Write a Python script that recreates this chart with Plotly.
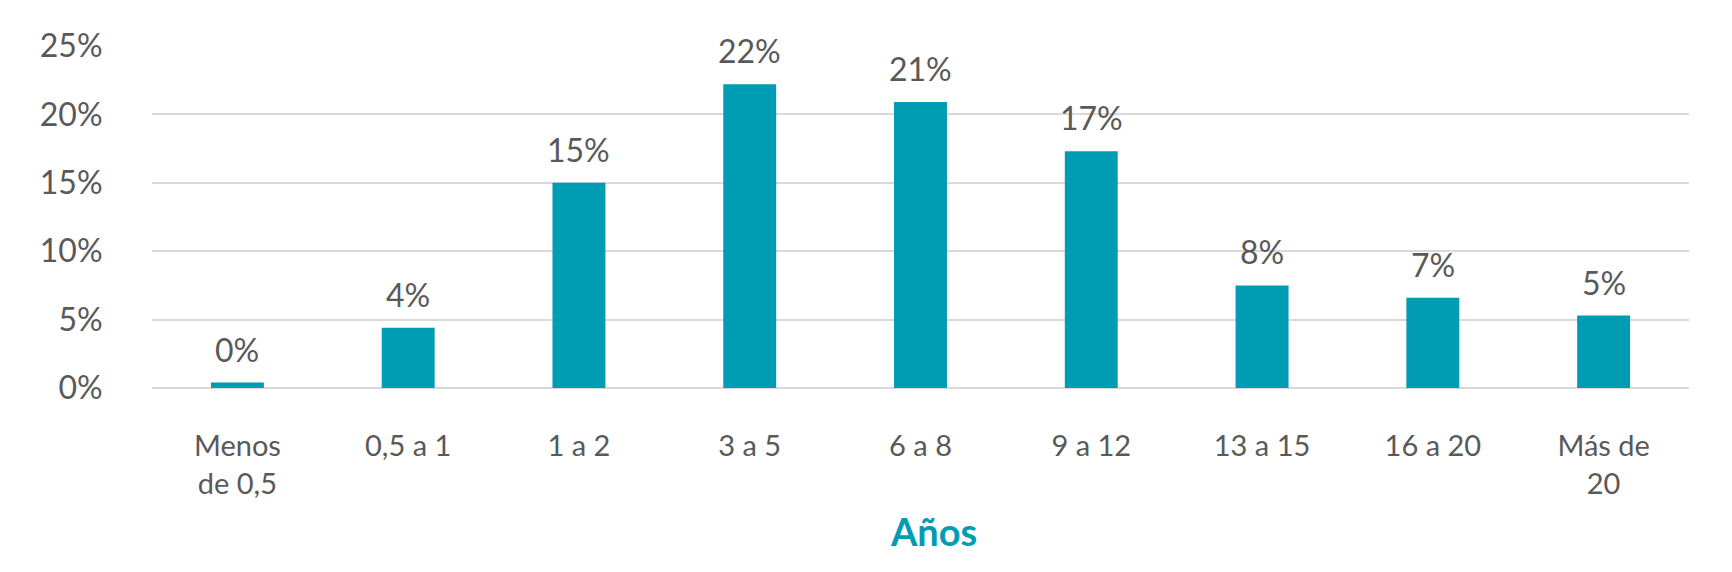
import plotly.graph_objects as go

categories = ["Menos<br>de 0,5", "0,5 a 1", "1 a 2", "3 a 5", "6 a 8", "9 a 12", "13 a 15", "16 a 20", "Más de<br>20"]
values = [0.4, 4.4, 15.0, 22.2, 20.9, 17.3, 7.5, 6.6, 5.3]
labels = ["0%", "4%", "15%", "22%", "21%", "17%", "8%", "7%", "5%"]
y_ticks = [0, 5, 10, 15, 20, 25]
y_ticktext = ["0%", "5%", "10%", "15%", "20%", "25%"]

BAR = "#009CB4"
TXT = "#595959"
GRID = "#D9D9D9"
FONT = "Lato, sans-serif"

fig = go.Figure()
fig.add_trace(go.Bar(x=categories, y=values, marker=dict(color=BAR, line=dict(width=0)),
                     width=0.31, hoverinfo="skip"))

for c, v, t in zip(categories, values, labels):
    fig.add_annotation(x=c, y=v, text=t, showarrow=False, yanchor="bottom",
                       yshift=12, font=dict(size=32, color=TXT, family=FONT))

fig.add_annotation(xref="paper", yref="paper", x=0.5085, y=-0.418,
                   xanchor="center", yanchor="middle", showarrow=False,
                   text="<b>Años</b>", font=dict(size=38, color=BAR, family=FONT))

fig.update_layout(
    width=1724, height=564,
    margin=dict(l=144, r=43, t=38, b=184, autoexpand=False),
    paper_bgcolor="white", plot_bgcolor="white",
    showlegend=False,
    font=dict(family=FONT, color=TXT, size=30),
)
fig.update_xaxes(showgrid=False, showline=False, zeroline=False, automargin=False,
                 tickfont=dict(size=29, color=TXT, family=FONT),
                 ticks="outside", ticklen=32, tickcolor="rgba(0,0,0,0)")
fig.update_yaxes(range=[0, 25], tickvals=y_ticks, ticktext=y_ticktext, automargin=False,
                 showgrid=True, gridcolor=GRID, gridwidth=2,
                 zeroline=True, zerolinecolor=GRID, zerolinewidth=2,
                 showline=False,
                 tickfont=dict(size=32, color=TXT, family=FONT),
                 ticks="outside", ticklen=42, tickcolor="rgba(0,0,0,0)")

fig.write_html("out.html")
